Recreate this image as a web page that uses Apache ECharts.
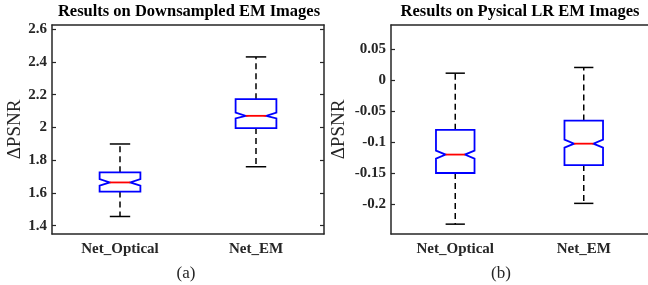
<!DOCTYPE html>
<html>
<head>
<meta charset="utf-8">
<script src="https://cdn.jsdelivr.net/npm/echarts@6/dist/echarts.min.js"></script>
<style>
  html, body { margin: 0; padding: 0; background: #fff; }
  #chart { width: 648px; height: 285px; }
</style>
</head>
<body>
<div id="chart"></div>
<script>
  const categories = ['Net_Optical', 'Net_EM']

  // (a) downsampled EM images
  const dsLow = [1.456, 1.760]
  const dsQ1 = [1.608, 1.996]
  const dsNotchLow = [1.645, 2.055]
  const dsMedian = [1.664, 2.071]
  const dsNotchHigh = [1.685, 2.091]
  const dsQ3 = [1.726, 2.173]
  const dsHigh = [1.899, 2.431]
  const dsTicks = [1.4, 1.6, 1.8, 2, 2.2, 2.4, 2.6]
  const dsMin = 1.349
  const dsMax = 2.626

  // (b) physical LR EM images
  const lrLow = [-0.2325, -0.199]
  const lrQ1 = [-0.150, -0.1373]
  const lrNotchLow = [-0.1267, -0.109]
  const lrMedian = [-0.1203, -0.1027]
  const lrNotchHigh = [-0.1139, -0.0963]
  const lrQ3 = [-0.0804, -0.0655]
  const lrHigh = [0.011, 0.0202]
  const lrTicks = [-0.2, -0.15, -0.1, -0.05, 0, 0.05]
  const lrMin = -0.2484
  const lrMax = 0.0887

  const font = "'Liberation Serif', 'Times New Roman', serif"
  const axisColor = '#262626'

  function rows(lo, q1, nlo, med, nhi, q3, hi) {
    return categories.map((c, i) => [i, lo[i], q1[i], nlo[i], med[i], nhi[i], q3[i], hi[i]])
  }

  function renderBox(params, api) {
    const cat = api.value(0)
    const x = api.coord([cat, 0])[0]
    const y = (d) => api.coord([cat, api.value(d)])[1]
    const band = api.size([1, 0])[0]
    const w = band * 0.3
    const h = w / 2
    const q = w / 4
    const yLo = y(1), yQ1 = y(2), yNlo = y(3), yMed = y(4), yNhi = y(5), yQ3 = y(6), yHi = y(7)
    const black = { stroke: '#000', lineWidth: 1.5, fill: 'none' }
    const dashed = { stroke: '#000', lineWidth: 1.5, lineDash: [6, 4], fill: 'none' }
    return {
      type: 'group',
      children: [
        { type: 'line', shape: { x1: x, y1: yQ3, x2: x, y2: yHi }, style: dashed },
        { type: 'line', shape: { x1: x, y1: yQ1, x2: x, y2: yLo }, style: dashed },
        { type: 'line', shape: { x1: x - h / 2, y1: yHi, x2: x + h / 2, y2: yHi }, style: black },
        { type: 'line', shape: { x1: x - h / 2, y1: yLo, x2: x + h / 2, y2: yLo }, style: black },
        {
          type: 'polygon',
          shape: {
            points: [
              [x - h, yQ3], [x + h, yQ3], [x + h, yNhi], [x + q, yMed], [x + h, yNlo],
              [x + h, yQ1], [x - h, yQ1], [x - h, yNlo], [x - q, yMed], [x - h, yNhi]
            ]
          },
          style: { stroke: '#0000ff', lineWidth: 1.8, fill: 'none' }
        },
        { type: 'line', shape: { x1: x - q, y1: yMed, x2: x + q, y2: yMed }, style: { stroke: '#ff0000', lineWidth: 1.8 } }
      ]
    }
  }

  function xAxes(grid) {
    return [
      {
        type: 'category', gridIndex: grid, data: categories, position: 'bottom',
        axisLine: { onZero: false, lineStyle: { color: axisColor, width: 1.5 } },
        axisTick: { inside: true, alignWithLabel: true, length: 4, lineStyle: { color: axisColor, width: 1.2 } },
        axisLabel: { color: axisColor, fontFamily: font, fontWeight: 'bold', fontSize: 15, margin: 8 },
        splitLine: { show: false }
      },
      {
        type: 'category', gridIndex: grid, data: categories, position: 'top',
        axisLine: { onZero: false, lineStyle: { color: axisColor, width: 1.5 } },
        axisTick: { inside: true, alignWithLabel: true, length: 4, lineStyle: { color: axisColor, width: 1.2 } },
        axisLabel: { show: false },
        splitLine: { show: false }
      }
    ]
  }

  function yAxes(grid, min, max, ticks, gap, showRight) {
    return [
      {
        type: 'value', gridIndex: grid, min: min, max: max, position: 'left',
        name: 'ΔPSNR', nameLocation: 'middle', nameGap: gap,
        nameTextStyle: { color: axisColor, fontFamily: font, fontSize: 19 },
        axisLine: { show: true, onZero: false, lineStyle: { color: axisColor, width: 1.5 } },
        axisTick: { show: true, inside: true, length: 4, customValues: ticks, lineStyle: { color: axisColor, width: 1.2 } },
        axisLabel: { customValues: ticks, color: axisColor, fontFamily: font, fontWeight: 'bold', fontSize: 15, margin: 5 },
        splitLine: { show: false }
      },
      {
        type: 'value', gridIndex: grid, min: min, max: max, position: 'right',
        axisLine: { show: showRight, onZero: false, lineStyle: { color: axisColor, width: 1.5 } },
        axisTick: { show: showRight, inside: true, length: 4, customValues: ticks, lineStyle: { color: axisColor, width: 1.2 } },
        axisLabel: { show: false },
        splitLine: { show: false }
      }
    ]
  }

  let chart = echarts.init(document.getElementById('chart'), null, { renderer: 'canvas' })
  chart.setOption({
    backgroundColor: '#fff',
    animation: false,
    grid: [
      { left: 52, top: 25, width: 272, height: 209 },
      { left: 391, top: 25, width: 259, height: 209 }
    ],
    xAxis: [...xAxes(0), ...xAxes(1)],
    yAxis: [
      ...yAxes(0, dsMin, dsMax, dsTicks, 27, true),
      ...yAxes(1, lrMin, lrMax, lrTicks, 42, false)
    ],
    series: [
      {
        type: 'custom', xAxisIndex: 0, yAxisIndex: 0,
        renderItem: renderBox, encode: { x: 0, y: [1, 2, 3, 4, 5, 6, 7] },
        data: rows(dsLow, dsQ1, dsNotchLow, dsMedian, dsNotchHigh, dsQ3, dsHigh)
      },
      {
        type: 'custom', xAxisIndex: 2, yAxisIndex: 2,
        renderItem: renderBox, encode: { x: 0, y: [1, 2, 3, 4, 5, 6, 7] },
        data: rows(lrLow, lrQ1, lrNotchLow, lrMedian, lrNotchHigh, lrQ3, lrHigh)
      }
    ],
    graphic: [
      {
        type: 'text', x: 189, y: 12,
        style: { text: 'Results on Downsampled EM Images', fill: '#000', font: 'bold 16.5px ' + font, align: 'center', verticalAlign: 'middle' }
      },
      {
        type: 'text', x: 520, y: 12,
        style: { text: 'Results on Pysical LR EM Images', fill: '#000', font: 'bold 16.5px ' + font, align: 'center', verticalAlign: 'middle' }
      },
      {
        type: 'text', x: 186, y: 274,
        style: { text: '(a)', fill: '#262626', font: '17px ' + font, align: 'center', verticalAlign: 'middle' }
      },
      {
        type: 'text', x: 501, y: 274,
        style: { text: '(b)', fill: '#262626', font: '17px ' + font, align: 'center', verticalAlign: 'middle' }
      }
    ]
  })
</script>
</body>
</html>
